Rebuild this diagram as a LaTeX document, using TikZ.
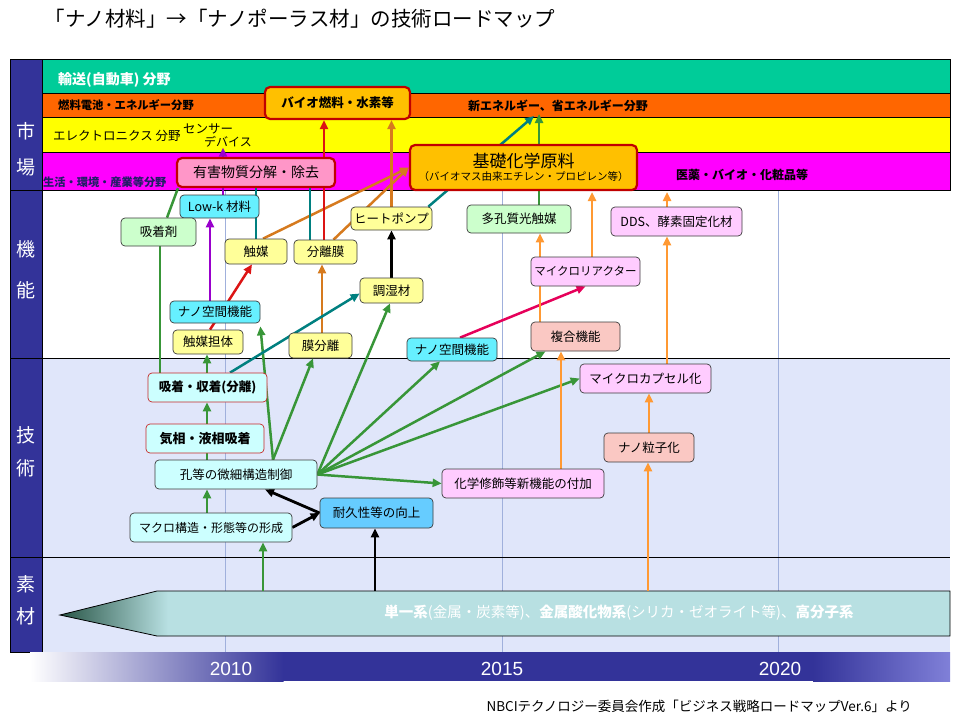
\documentclass[tikz,border=0pt]{standalone}
\usepackage{fontspec}
\setmainfont{Noto Sans CJK JP}
\newfontfamily\yearfont{Liberation Sans}
\usetikzlibrary{arrows.meta,calc}
\pgfdeclarelayer{bg}
\pgfdeclarelayer{conn}
\pgfsetlayers{bg,conn,main}
\newcommand\myfs[1]{\fontsize{#1}{#1}\selectfont}
\definecolor{rowgreen}{RGB}{0,204,153}
\definecolor{roworange}{RGB}{255,102,0}
\definecolor{rowyellow}{RGB}{255,255,0}
\definecolor{rowmagenta}{RGB}{255,0,255}
\definecolor{colnavy}{RGB}{51,51,153}
\definecolor{barlight}{RGB}{128,128,216}
\definecolor{lav}{RGB}{224,230,250}
\definecolor{yrline}{RGB}{160,176,220}
\definecolor{matfill}{RGB}{184,224,226}
\definecolor{matdark}{RGB}{40,85,70}
\definecolor{gold}{RGB}{255,192,0}
\definecolor{mktred}{RGB}{192,0,0}
\definecolor{pinkmk}{RGB}{255,150,200}
\definecolor{cyanbx}{RGB}{102,240,255}
\definecolor{yellowbx}{RGB}{255,255,153}
\definecolor{greenbx}{RGB}{204,255,204}
\definecolor{lilacbx}{RGB}{255,204,255}
\definecolor{salmonbx}{RGB}{250,200,195}
\definecolor{techbx}{RGB}{204,255,255}
\definecolor{bluebx}{RGB}{102,204,255}
\definecolor{boxline}{RGB}{60,60,60}
\definecolor{tred}{RGB}{200,40,40}
\definecolor{textnavy}{RGB}{30,30,100}
\definecolor{cgreen}{RGB}{56,150,56}
\definecolor{corange}{RGB}{214,122,30}
\definecolor{clorange}{RGB}{255,153,51}
\definecolor{cred}{RGB}{220,20,20}
\definecolor{cpurple}{RGB}{153,0,204}
\definecolor{cteal}{RGB}{0,128,128}
\definecolor{ccrimson}{RGB}{230,0,90}
\tikzset{
  bx/.style={draw=boxline, line width=0.7pt, rounded corners=4pt, inner sep=0pt, align=center, font=\myfs{12.5}},
  mk/.style={draw=mktred, line width=2.2pt, rounded corners=5pt, inner sep=0pt, align=center},
  sz/.style 2 args={minimum width=#1pt, minimum height=#2pt},
  lbl/.style={inner sep=0pt},
  cn/.style={line width=2.5pt, -{Triangle[length=9pt,width=8pt]}},
  cl/.style={line width=2.5pt},
  gc/.style={cn, draw=cgreen, fill=cgreen},
  gl/.style={cl, draw=cgreen},
  oc/.style={cn, draw=corange, fill=corange},
  lo/.style={cn, draw=clorange, fill=clorange},
  ll/.style={cl, draw=clorange},
  rc/.style={cn, draw=cred, fill=cred},
  pc/.style={cn, draw=cpurple, fill=cpurple},
  tc/.style={cn, draw=cteal, fill=cteal},
  tl/.style={cl, draw=cteal},
  kc/.style={cn, draw=black, fill=black, line width=2.8pt},
  cc/.style={cn, draw=ccrimson, fill=ccrimson}
}
\begin{document}
\begin{tikzpicture}[x=1pt,y=-1pt]
\useasboundingbox (0,0) rectangle (960,720);
\begin{pgfonlayer}{bg}
  \fill[white] (0,0) rectangle (960,720);
  \fill[lav] (42,358) rectangle (950,652);
  \foreach \yx in {225,502,778} \draw[yrline, line width=0.8pt] (\yx,190) -- (\yx,652);
  % market rows
  \filldraw[fill=rowgreen, draw=black, line width=0.6pt] (42,59) rectangle (950,93);
  \filldraw[fill=roworange, draw=black, line width=0.6pt] (42,93) rectangle (950,117);
  \filldraw[fill=rowyellow, draw=black, line width=0.6pt] (42,117) rectangle (950,152);
  \filldraw[fill=rowmagenta, draw=black, line width=0.6pt] (42,152) rectangle (950,190);
  % left column
  \filldraw[fill=colnavy, draw=black, line width=0.8pt] (10,59) rectangle (42,652);
  \draw[black, line width=0.9pt] (10,59) -- (950,59);
  \draw[black, line width=1pt] (10,190) -- (950,190);
  \draw[black, line width=1pt] (10,358) -- (950,358);
  \draw[black, line width=1pt] (10,557) -- (950,557);
  % year bar
  \shade[left color=white, right color=colnavy] (30,652) rectangle (283.5,681);
  \fill[colnavy] (282.5,652) rectangle (813.5,681);
  \shade[left color=colnavy, right color=barlight] (813,652) rectangle (950,681);
  % material band
  \fill[matfill] (60,615) -- (157,591) -- (950,591) -- (950,636) -- (157,636) -- cycle;
  \begin{scope}
    \clip (60,615) -- (157,591) -- (950,591) -- (950,636) -- (157,636) -- cycle;
    \shade[left color=matdark, right color=matfill] (60,591) rectangle (168,636);
  \end{scope}
  \draw[black, line width=0.8pt] (60,615) -- (157,591) -- (950,591) -- (950,636) -- (157,636) -- cycle;
\end{pgfonlayer}

% title and footnote
\node[lbl, font=\myfs{20.5}] (title) at (300,19) {「ナノ材料」→「ナノポーラス材」の技術ロードマップ};
\node[lbl, anchor=east, font=\myfs{13.5}] (foot) at (912,706) {NBCIテクノロジー委員会作成「ビジネス戦略ロードマップVer.6」より};

% left column labels
\node[lbl, text=white, font=\myfs{19}] (L1) at (26,131) {市};
\node[lbl, text=white, font=\myfs{19}] (L2) at (26,167) {場};
\node[lbl, text=white, font=\myfs{19}] (L3) at (26,249) {機};
\node[lbl, text=white, font=\myfs{19}] (L4) at (26,290) {能};
\node[lbl, text=white, font=\myfs{19}] (L5) at (26,435) {技};
\node[lbl, text=white, font=\myfs{19}] (L6) at (26,468) {術};
\node[lbl, text=white, font=\myfs{19}] (L7) at (26,584) {素};
\node[lbl, text=white, font=\myfs{19}] (L8) at (26,616) {材};

% years
\node[lbl, text=white, font=\yearfont\myfs{19}] (y1) at (231,669) {2010};
\node[lbl, text=white, font=\yearfont\myfs{19}] (y2) at (502,669) {2015};
\node[lbl, text=white, font=\yearfont\myfs{19}] (y3) at (780,669) {2020};

% market row texts
\node[lbl, anchor=west, text=white, font=\bfseries\myfs{14}] (tr1) at (58,80) {輸送(自動車) 分野};
\node[lbl, anchor=west, font=\bfseries\myfs{11.3}] (tr2) at (58,105) {燃料電池・エネルギー分野};
\node[lbl, font=\bfseries\myfs{12}] (tr3) at (558,106) {新エネルギー、省エネルギー分野};
\node[lbl, anchor=west, font=\myfs{12.5}] (tr4) at (53,136) {エレクトロニクス 分野};
\node[lbl, anchor=west, font=\myfs{12.5}] (sensorA) at (183,129) {センサー};
\node[lbl, anchor=west, font=\myfs{12}] (sensorB) at (204,142) {デバイス};
\node[lbl, anchor=west, text=textnavy, font=\bfseries\myfs{11.2}] (tr5) at (43,182) {生活・環境・産業等分野};
\node[lbl, font=\bfseries\myfs{12}] (tr6) at (742,175) {医薬・バイオ・化粧品等};

% material text
\node[lbl, text=white, font=\myfs{14.5}] (mattext) at (619,613) {\textbf{単一系}(金属・炭素等)、\textbf{金属酸化物系}(シリカ・ゼオライト等)、\textbf{高分子系}};

% market boxes
\node[mk, fill=gold, sz={145}{32}, font=\bfseries\myfs{12.5}] (bio) at (337.5,103) {バイオ燃料・水素等};
\node[mk, fill=pinkmk, sz={158}{29}, font=\myfs{14}] (yugai) at (256,172.5) {有害物質分解・除去};
\node[mk, fill=gold, sz={227}{45}] (kiso) at (523.5,167.5) {{\myfs{17}基礎化学原料}\\[1pt]{\myfs{10.5}（バイオマス由来エチレン・プロピレン等）}};

% function boxes
\node[bx, fill=cyanbx, sz={79}{23}] (lowk) at (219.5,206.5) {Low-k 材料};
\node[bx, fill=greenbx, sz={75}{28}] (kyuchakuzai) at (158.5,232) {吸着剤};
\node[bx, fill=yellowbx, sz={62}{25}] (shokubai) at (256,251.5) {触媒};
\node[bx, fill=yellowbx, sz={63}{24}] (bunrimaku) at (325.5,252) {分離膜};
\node[bx, fill=yellowbx, sz={81}{23}] (heatpump) at (391.5,218.5) {ヒートポンプ};
\node[bx, fill=yellowbx, sz={63}{25}] (choshitsu) at (391.5,290.5) {調湿材};
\node[bx, fill=cyanbx, sz={90}{22}] (nanoL) at (215,312) {ナノ空間機能};
\node[bx, fill=yellowbx, sz={70}{24}] (tantai) at (208,342) {触媒担体};
\node[bx, fill=yellowbx, sz={63}{25}] (makubunri) at (320.5,345.5) {膜分離};
\node[bx, fill=cyanbx, sz={90}{23}] (nanoR) at (452,349.5) {ナノ空間機能};
\node[bx, fill=greenbx, sz={104}{28}] (takoshitsu) at (519,219) {多孔質光触媒};
\node[bx, fill=lilacbx, sz={131}{29}] (dds) at (676.5,221.5) {DDS、酵素固定化材};
\node[bx, fill=lilacbx, sz={109}{29}, font=\myfs{11.5}] (micror) at (585.5,271.5) {マイクロリアクター};
\node[bx, fill=salmonbx, sz={89}{29}] (fukugo) at (575.5,336.5) {複合機能};

% technique boxes
\node[bx, draw=tred, fill=techbx, sz={119}{29}, font=\bfseries\myfs{12.5}] (kyuchaku2) at (207.5,387.5) {吸着・収着(分離)};
\node[bx, draw=tred, fill=techbx, sz={118}{29}, font=\bfseries\myfs{13}] (kisou) at (205,438.5) {気相・液相吸着};
\node[bx, fill=techbx, sz={162}{29}] (kou) at (236,474.5) {孔等の微細構造制御};
\node[bx, fill=techbx, sz={162}{29}, font=\myfs{12}] (macro) at (211,527.5) {マクロ構造・形態等の形成};
\node[bx, fill=bluebx, sz={113}{30}] (taikyu) at (376.5,513) {耐久性等の向上};
\node[bx, fill=lilacbx, sz={162}{29}] (kagaku) at (523,483.5) {化学修飾等新機能の付加};
\node[bx, fill=lilacbx, sz={131}{29}] (microcap) at (645.5,378.5) {マイクロカプセル化};
\node[bx, fill=salmonbx, sz={90}{29}] (nanoryushi) at (649,447.5) {ナノ粒子化};

% connector end points
\coordinate (m1) at (263,591);
\coordinate (m2) at (375,591);
\coordinate (m3) at (648,591);
\coordinate (newE1) at (539,114);
\coordinate (newE2) at (534,116);
\coordinate (mk1) at (667,192);
\coordinate (mk2) at (592,192);
\coordinate (colA) at (207,0);
\coordinate (colB) at (160,0);
\coordinate (colR) at (324,0);
\coordinate (colP) at (210,0);
\coordinate (colQ) at (223,0);
\coordinate (colT) at (310,0);
\coordinate (colD) at (667,0);
\coordinate (colE) at (561,0);
\coordinate (colF) at (540,0);
\coordinate (colG) at (592,0);

\begin{pgfonlayer}{conn}
  % green
  \draw[gc] (m1) -- (macro.south -| m1);
  \draw[gc] (macro.north -| colA) -- (kou.south -| colA);
  \draw[gl] (kou.north -| colA) -- (kisou.south -| colA);
  \draw[gc] (kisou.north -| colA) -- (kyuchaku2.south -| colA);
  \draw[gc] (kyuchaku2.north -| colA) -- (tantai.south -| colA);
  \draw[gl] (kyuchaku2.north -| colB) -- (kyuchakuzai.south -| colB);
  \draw[gl] ([xshift=8.5pt]kyuchakuzai.north) -- ([xshift=-78pt]yugai.south);
  \draw[gc] ([xshift=37pt]kou.north) -- ([yshift=-3pt]nanoL.south east);
  \draw[gc] ([xshift=37pt]kou.north) -- ([xshift=-7.5pt]makubunri.south);
  \draw[gc] (kou.east) -- ([xshift=-1.5pt]choshitsu.south);
  \draw[gc] (kou.east) -- ([xshift=-12pt]nanoR.south);
  \draw[gc] (kou.east) -- ([xshift=-30pt]fukugo.south);
  \draw[gc] (kou.east) -- (microcap.west);
  \draw[gc] (kou.east) -- (kagaku.west);
  \draw[gc] ([xshift=20pt]takoshitsu.north) -- (newE1);
  % dark orange
  \draw[oc] ([xshift=1.5pt]makubunri.north) -- ([xshift=-3.5pt]bunrimaku.south);
  \draw[oc] ([xshift=7pt]shokubai.north) -- (kiso.west);
  \draw[oc] ([xshift=8pt]bunrimaku.north) -- (kiso.west);
  \draw[oc] (heatpump.north) -- (bio.south -| heatpump.north);
  % red
  \draw[rc] (tantai.north -| colP) -- ([xshift=-4pt]shokubai.south);
  \draw[rc] (bunrimaku.north -| colR) -- (bio.south -| colR);
  % purple
  \draw[pc] (nanoL.north -| colP) -- (lowk.south -| colP);
  \draw[pc] (lowk.north -| colQ) -- (sensorB.south -| colQ);
  % teal
  \draw[tl] (shokubai.north) -- (yugai.south -| shokubai.north);
  \draw[tl] (bunrimaku.north -| colT) -- (yugai.south -| colT);
  \draw[tc] ([xshift=22.5pt]kyuchaku2.north) -- ([yshift=-3pt]choshitsu.west);
  \draw[tc] ([xshift=-4pt]heatpump.north east) -- (newE2);
  % black
  \draw[kc] (m2) -- (taikyu.south -| m2);
  \draw[kc] (choshitsu.north) -- (heatpump.south);
  \draw[kc] (macro.east) -- (taikyu.west);
  \draw[kc] (taikyu.west) -- ([xshift=29pt]kou.south);
  % crimson
  \draw[cc] ([xshift=8pt]nanoR.north) -- (micror.south);
  % light orange
  \draw[lo] (m3) -- (nanoryushi.south -| m3);
  \draw[lo] (nanoryushi.north) -- (microcap.south -| nanoryushi.north);
  \draw[lo] (microcap.north -| colD) -- (dds.south -| colD);
  \draw[lo] (dds.north -| colD) -- (mk1);
  \draw[lo] (kagaku.north -| colE) -- (fukugo.south -| colE);
  \draw[ll] (fukugo.north -| colF) -- (micror.south -| colF);
  \draw[lo] (micror.north -| colF) -- (takoshitsu.south -| colF);
  \draw[lo] (micror.north -| colG) -- (mk2);
\end{pgfonlayer}
\end{tikzpicture}
\end{document}
